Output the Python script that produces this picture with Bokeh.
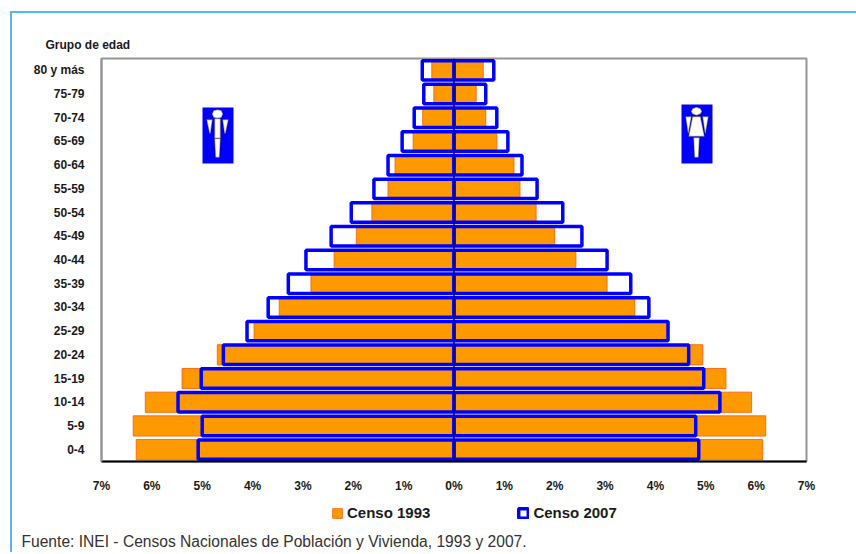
from bokeh.plotting import figure
from bokeh.layouts import column
from bokeh.embed import file_html
from bokeh.resources import INLINE
from bokeh.models import (ColumnDataSource, FactorRange, Range1d, FixedTicker, Legend, LegendItem,
                          Title, BoxAnnotation, PolyAnnotation, Span)

grupos = ["0-4", "5-9", "10-14", "15-19", "20-24", "25-29", "30-34", "35-39", "40-44",
          "45-49", "50-54", "55-59", "60-64", "65-69", "70-74", "75-79", "80 y más"]
hombres_1993 = [6.31, 6.37, 6.13, 5.40, 4.70, 3.97, 3.47, 2.84, 2.38, 1.94, 1.63, 1.31, 1.17, 0.81, 0.62, 0.40, 0.44]
mujeres_1993 = [6.13, 6.19, 5.91, 5.40, 4.94, 4.25, 3.59, 3.04, 2.42, 2.00, 1.63, 1.31, 1.19, 0.85, 0.63, 0.44, 0.58]
hombres_2007 = [5.08, 5.00, 5.48, 5.02, 4.58, 4.11, 3.69, 3.29, 2.94, 2.44, 2.04, 1.59, 1.31, 1.03, 0.79, 0.60, 0.63]
mujeres_2007 = [4.86, 4.80, 5.28, 4.96, 4.66, 4.25, 3.87, 3.51, 3.04, 2.54, 2.16, 1.65, 1.35, 1.07, 0.85, 0.63, 0.79]
ticks_x = [-7, -6, -5, -4, -3, -2, -1, 0, 1, 2, 3, 4, 5, 6, 7]
leyenda = ["Censo 1993", "Censo 2007"]
fuente = "Fuente: INEI - Censos Nacionales de Población y Vivienda, 1993 y 2007."

OX, OY = 12, 13   # where the canvases start on the page (margin + border)
W = 856 - OX
SPLIT = 497       # page row where the footer figure starts
FRAME_H = 30      # height of the footer's frame; the source line sits under it
H1, H2 = SPLIT - OY, 554 - SPLIT
p = figure(width=W, height=H1, output_backend="svg", toolbar_location=None,
           x_range=Range1d(-7, 7), y_range=FactorRange(factors=grupos, range_padding=0),
           min_border_left=101 - OX, min_border_right=W - (806 - OX), min_border_top=58 - OY,
           min_border_bottom=SPLIT - 461, border_fill_color="white", background_fill_color="white")
p.grid.visible = False
p.outline_line_color = "#969696"
p.outline_line_width = 2

src = ColumnDataSource(dict(g=grupos,
                            h93=[-v for v in hombres_1993], m93=mujeres_1993,
                            h07=[-v for v in hombres_2007], m07=mujeres_2007,
                            z=[0] * len(grupos)))
H93, H07 = 0.85, 0.82
ORANGE, ORANGE_L, BLUE = "#FF9900", "#FF6A14", "#0000FF"
st93 = dict(fill_color=ORANGE, line_color=ORANGE_L, line_width=1)
st07 = dict(fill_color=None, line_color=BLUE, line_width=3.5)
p.hbar(y="g", left="h93", right="z", height=H93, source=src, **st93)
p.hbar(y="g", left="z", right="m93", height=H93, source=src, **st93)
p.hbar(y="g", left="h07", right="z", height=H07, source=src, **st07)
p.hbar(y="g", left="z", right="m07", height=H07, source=src, **st07)
p.add_layout(Span(location=0, dimension="height", line_color="#00007A", line_width=1.5))

ax = p.xaxis[0]
ax.ticker = FixedTicker(ticks=ticks_x)
ax.major_label_overrides = {t: f"{abs(t)}%" for t in ticks_x}
ax.major_tick_line_color = None
ax.minor_tick_line_color = None
ax.axis_line_color = "black"
ax.axis_line_width = 2
ax.major_label_standoff = 11
ax.major_label_text_font = "Liberation Sans"
ax.major_label_text_font_style = "bold"
ax.major_label_text_font_size = "12px"
ax.major_label_text_color = "#1a1a1a"

ay = p.yaxis[0]
ay.major_tick_line_color = None
ay.minor_tick_line_color = None
ay.axis_line_color = "#969696"
ay.axis_line_width = 2
ay.major_label_standoff = 11
ay.major_label_text_font = "Liberation Sans"
ay.major_label_text_font_style = "bold"
ay.major_label_text_font_size = "12px"
ay.major_label_text_color = "#1a1a1a"

p.add_layout(Title(text="Grupo de edad", align="left", offset=45 - 101, standoff=13,
                   text_font="Liberation Sans", text_font_style="bold", text_font_size="12px",
                   text_color="#1a1a1a"), "above")

def cx(v): return v - OX
def cy(v): return v - OY

def box(l, r, t, b):
    p.add_layout(BoxAnnotation(left=cx(l), right=cx(r), top=cy(t), bottom=cy(b),
                               left_units="canvas", right_units="canvas", top_units="canvas", bottom_units="canvas",
                               fill_color=BLUE, fill_alpha=1, line_color=None))

def poly(pts):
    p.add_layout(PolyAnnotation(xs=[cx(a) for a, _ in pts], ys=[cy(b) for _, b in pts],
                                xs_units="canvas", ys_units="canvas",
                                fill_color="white", fill_alpha=1, line_color="black", line_width=1.5))

# hombre
box(202, 233, 107, 163)
poly([(213, 110), (217, 109), (221, 110), (222.5, 113.5), (221, 117), (217, 118), (213, 117), (211.5, 113.5)])
poly([(206, 119), (212, 119), (210, 133), (209, 133)])
poly([(222, 119), (228, 119), (225, 133), (224, 133)])
poly([(214, 118), (220, 118), (220, 138), (214, 138)])
poly([(214, 138), (220, 138), (219, 157), (215, 157)])
# mujer
box(681, 712, 104, 163)
poly([(692, 108), (696, 106.5), (700, 108), (701.5, 111), (700, 113.5), (696, 115), (692, 113.5), (690.5, 111)])
poly([(685, 116), (691, 116), (688, 133), (687.5, 133)])
poly([(702, 116), (708, 116), (705, 133), (704.5, 133)])
poly([(692, 116), (700, 116), (704, 136), (688, 136)])
poly([(693, 137), (699, 137), (698, 157), (694, 157)])

# footer: legend and source line
f = figure(width=W, height=H2, frame_width=W, frame_height=FRAME_H, output_backend="svg", toolbar_location=None,
           x_range=Range1d(0, 1), y_range=Range1d(0, 1), x_axis_location=None, y_axis_location=None,
           min_border=0, min_border_left=0, min_border_right=0, min_border_top=0, min_border_bottom=0,
           border_fill_color="white", background_fill_color="white")
f.grid.visible = False
f.outline_line_color = None
swatch = ColumnDataSource(dict(y=[5], left=[5], right=[6]))
k1 = f.hbar(y="y", left="left", right="right", height=0.5, source=swatch, **st93)
k2 = f.hbar(y="y", left="left", right="right", height=0.5, source=swatch, **st07)
legend = Legend(items=[LegendItem(label=leyenda[0], renderers=[k1], index=0),
                       LegendItem(label=leyenda[1], renderers=[k2], index=0)],
                orientation="horizontal", location=(331 - OX, SPLIT + FRAME_H - 521),
                background_fill_alpha=0, border_line_alpha=0,
                glyph_width=12, glyph_height=12, label_standoff=4, spacing=87, padding=0, margin=0,
                label_text_font="Liberation Sans", label_text_font_style="bold",
                label_text_font_size="15px", label_text_color="#1a1a1a")
f.add_layout(legend, "center")
f.add_layout(Title(text=fuente, align="left", offset=22 - 102, standoff=6,
                   text_font="Liberation Sans", text_font_style="normal", text_font_size="15.6px",
                   text_color="#333333"), "below")

page = column(p, f, spacing=0, margin=(11, 0, 0, 10))
page.styles = {"border-top": "2px solid #55B8EA", "border-left": "2px solid #55B8EA"}
open("out.html", "w").write(file_html(page, INLINE))
